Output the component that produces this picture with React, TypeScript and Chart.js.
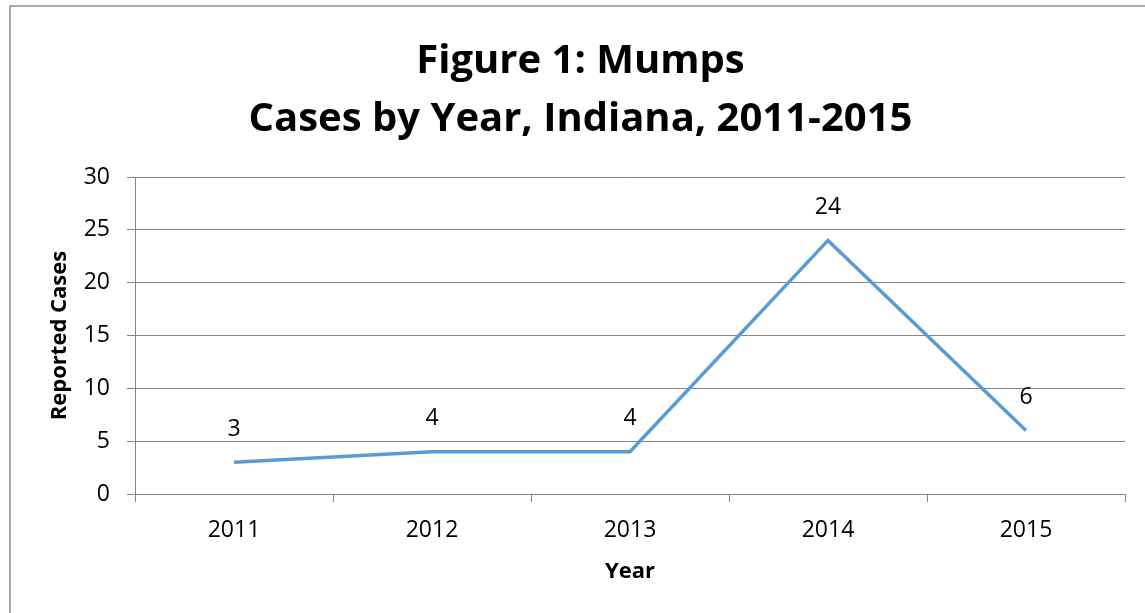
import React, { useEffect, useRef } from "react";
import { Chart, registerables } from "chart.js";

Chart.register(...registerables);

const years = ["2011", "2012", "2013", "2014", "2015"];
const cases = [3, 4, 4, 24, 6];
const titleLines = ["Figure 1: Mumps", "Cases by Year, Indiana, 2011-2015"];
const yTitle = "Reported Cases";
const xTitle = "Year";

const FONT = "'Open Sans', 'DejaVu Sans', sans-serif";

const labelPlugin = {
  id: "pointLabels",
  afterDatasetsDraw(chart: any) {
    const ctx = chart.ctx;
    const meta = chart.getDatasetMeta(0);
    ctx.save();
    ctx.font = `23px ${FONT}`;
    ctx.fillStyle = "#000";
    ctx.textAlign = "center";
    ctx.textBaseline = "middle";
    meta.data.forEach((pt: any, i: number) => {
      ctx.fillText(String(cases[i]), pt.x, pt.y - 33);
    });
    ctx.restore();
  },
};

export default function App() {
  const ref = useRef<HTMLCanvasElement>(null);
  useEffect(() => {
    if (!ref.current) return;
    const chart = new Chart(ref.current, {
      type: "line",
      data: {
        labels: years,
        datasets: [
          {
            data: cases,
            borderColor: "#5b9bd5",
            borderWidth: 3.5,
            pointRadius: 0,
            tension: 0,
            fill: false,
          },
        ],
      },
      options: {
        animation: false,
        responsive: false,
        layout: { padding: { top: 0, right: 20, bottom: 0, left: 36 } },
        plugins: {
          legend: { display: false },
          tooltip: { enabled: false },
          title: {
            display: true,
            text: titleLines,
            color: "#000",
            font: { family: FONT, size: 40, weight: "bold", lineHeight: 1.45 },
            padding: { top: 33, bottom: 28 },
          },
        },
        scales: {
          x: {
            offset: true,
            grid: {
              offset: true,
              drawOnChartArea: false,
              drawTicks: true,
              tickLength: 8,
              color: "#868686",
            },
            border: { display: true, color: "#868686", width: 1 },
            ticks: {
              color: "#000",
              font: { family: FONT, size: 23 },
              padding: 15,
              maxRotation: 0,
            },
            title: {
              display: true,
              text: xTitle,
              color: "#000",
              font: { family: FONT, size: 22, weight: "bold" },
              padding: { top: 0, bottom: 28 },
            },
            afterFit(scale: any) {
              scale.height = 613 - 494;
            },
          },
          y: {
            min: 0,
            max: 30,
            ticks: {
              stepSize: 5,
              color: "#000",
              font: { family: FONT, size: 23 },
              padding: 17,
            },
            grid: { color: "#868686", tickLength: 8, drawTicks: true },
            border: { display: true, color: "#868686", width: 1 },
            title: {
              display: true,
              text: yTitle,
              color: "#000",
              font: { family: FONT, size: 22, weight: "bold" },
              padding: { top: 11, bottom: 0 },
            },
            afterFit(scale: any) {
              scale.width = 99;
            },
          },
        },
      },
      plugins: [labelPlugin],
    });
    return () => chart.destroy();
  }, []);

  return (
    <div style={{ position: "fixed", left: 0, top: 0, width: 1145, height: 613, background: "#fff" }}>
      <div
        style={{
          position: "absolute",
          left: 9,
          top: 5,
          width: 1200,
          height: 700,
          border: "2px solid #aaaaaa",
        }}
      />
      <canvas ref={ref} width={1145} height={613} style={{ position: "absolute", left: 0, top: 0 }} />
    </div>
  );
}
